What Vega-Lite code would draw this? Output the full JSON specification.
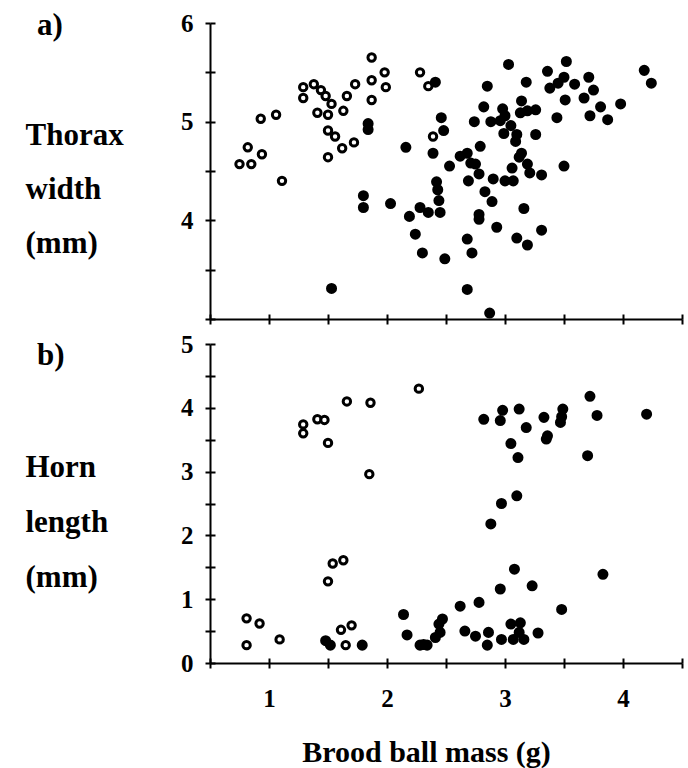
{
  "$schema": "https://vega.github.io/schema/vega-lite/v6.json",
  "background": "white",
  "padding": {"left": 25, "top": 10, "right": 5, "bottom": 5},
  "bounds": "flush",
  "spacing": 25,
  "config": {
    "view": {"stroke": null},
    "font": "Liberation Serif",
    "title": {"font": "Liberation Serif", "fontWeight": "bold", "fontSize": 31, "color": "black", "anchor": "start", "frame": "group", "orient": "top", "baseline": "middle", "offset": 0},
    "axis": {
      "grid": false,
      "domainColor": "black",
      "domainWidth": 2,
      "tickColor": "black",
      "tickWidth": 2,
      "labelFont": "Liberation Serif",
      "labelFontWeight": "bold",
      "labelFontSize": 25,
      "labelColor": "black",
      "titleFont": "Liberation Serif",
      "titleFontWeight": "bold",
      "titleColor": "black"
    }
  },
  "datasets": {
    "thorax": [
      {"mass": 0.75, "value": 4.57, "group": "open"},
      {"mass": 0.85, "value": 4.57, "group": "open"},
      {"mass": 0.82, "value": 4.74, "group": "open"},
      {"mass": 0.94, "value": 4.67, "group": "open"},
      {"mass": 0.93, "value": 5.03, "group": "open"},
      {"mass": 1.06, "value": 5.07, "group": "open"},
      {"mass": 1.11, "value": 4.40, "group": "open"},
      {"mass": 1.29, "value": 5.35, "group": "open"},
      {"mass": 1.29, "value": 5.24, "group": "open"},
      {"mass": 1.38, "value": 5.38, "group": "open"},
      {"mass": 1.44, "value": 5.32, "group": "open"},
      {"mass": 1.48, "value": 5.26, "group": "open"},
      {"mass": 1.53, "value": 5.18, "group": "open"},
      {"mass": 1.41, "value": 5.09, "group": "open"},
      {"mass": 1.50, "value": 5.07, "group": "open"},
      {"mass": 1.63, "value": 5.11, "group": "open"},
      {"mass": 1.66, "value": 5.26, "group": "open"},
      {"mass": 1.73, "value": 5.38, "group": "open"},
      {"mass": 1.50, "value": 4.91, "group": "open"},
      {"mass": 1.56, "value": 4.85, "group": "open"},
      {"mass": 1.50, "value": 4.64, "group": "open"},
      {"mass": 1.62, "value": 4.73, "group": "open"},
      {"mass": 1.72, "value": 4.79, "group": "open"},
      {"mass": 1.87, "value": 5.65, "group": "open"},
      {"mass": 1.87, "value": 5.42, "group": "open"},
      {"mass": 1.87, "value": 5.22, "group": "open"},
      {"mass": 1.98, "value": 5.50, "group": "open"},
      {"mass": 1.99, "value": 5.35, "group": "open"},
      {"mass": 2.28, "value": 5.50, "group": "open"},
      {"mass": 2.35, "value": 5.36, "group": "open"},
      {"mass": 2.39, "value": 4.85, "group": "open"},
      {"mass": 1.84, "value": 4.98, "group": "filled"},
      {"mass": 1.84, "value": 4.92, "group": "filled"},
      {"mass": 2.16, "value": 4.74, "group": "filled"},
      {"mass": 1.80, "value": 4.25, "group": "filled"},
      {"mass": 1.80, "value": 4.13, "group": "filled"},
      {"mass": 2.03, "value": 4.17, "group": "filled"},
      {"mass": 1.53, "value": 3.31, "group": "filled"},
      {"mass": 2.19, "value": 4.04, "group": "filled"},
      {"mass": 2.28, "value": 4.13, "group": "filled"},
      {"mass": 2.35, "value": 4.08, "group": "filled"},
      {"mass": 2.24, "value": 3.86, "group": "filled"},
      {"mass": 2.30, "value": 3.67, "group": "filled"},
      {"mass": 2.41, "value": 5.40, "group": "filled"},
      {"mass": 2.46, "value": 5.04, "group": "filled"},
      {"mass": 2.48, "value": 4.91, "group": "filled"},
      {"mass": 2.39, "value": 4.68, "group": "filled"},
      {"mass": 2.42, "value": 4.39, "group": "filled"},
      {"mass": 2.43, "value": 4.31, "group": "filled"},
      {"mass": 2.44, "value": 4.20, "group": "filled"},
      {"mass": 2.45, "value": 4.08, "group": "filled"},
      {"mass": 2.49, "value": 3.61, "group": "filled"},
      {"mass": 2.68, "value": 3.30, "group": "filled"},
      {"mass": 2.87, "value": 3.06, "group": "filled"},
      {"mass": 2.68, "value": 3.81, "group": "filled"},
      {"mass": 2.72, "value": 3.67, "group": "filled"},
      {"mass": 2.78, "value": 4.06, "group": "filled"},
      {"mass": 2.78, "value": 4.01, "group": "filled"},
      {"mass": 2.93, "value": 3.93, "group": "filled"},
      {"mass": 2.83, "value": 4.29, "group": "filled"},
      {"mass": 2.89, "value": 4.19, "group": "filled"},
      {"mass": 3.16, "value": 4.12, "group": "filled"},
      {"mass": 3.10, "value": 3.82, "group": "filled"},
      {"mass": 3.19, "value": 3.75, "group": "filled"},
      {"mass": 3.31, "value": 3.90, "group": "filled"},
      {"mass": 2.53, "value": 4.55, "group": "filled"},
      {"mass": 2.62, "value": 4.65, "group": "filled"},
      {"mass": 2.68, "value": 4.68, "group": "filled"},
      {"mass": 2.71, "value": 4.58, "group": "filled"},
      {"mass": 2.75, "value": 4.57, "group": "filled"},
      {"mass": 2.79, "value": 4.75, "group": "filled"},
      {"mass": 2.78, "value": 4.47, "group": "filled"},
      {"mass": 2.69, "value": 4.40, "group": "filled"},
      {"mass": 2.90, "value": 4.42, "group": "filled"},
      {"mass": 3.00, "value": 4.40, "group": "filled"},
      {"mass": 3.07, "value": 4.40, "group": "filled"},
      {"mass": 3.06, "value": 4.53, "group": "filled"},
      {"mass": 3.12, "value": 4.64, "group": "filled"},
      {"mass": 3.14, "value": 4.68, "group": "filled"},
      {"mass": 3.19, "value": 4.57, "group": "filled"},
      {"mass": 3.21, "value": 4.48, "group": "filled"},
      {"mass": 3.31, "value": 4.46, "group": "filled"},
      {"mass": 3.50, "value": 4.55, "group": "filled"},
      {"mass": 2.74, "value": 5.00, "group": "filled"},
      {"mass": 2.82, "value": 5.15, "group": "filled"},
      {"mass": 2.85, "value": 5.36, "group": "filled"},
      {"mass": 2.88, "value": 5.00, "group": "filled"},
      {"mass": 3.03, "value": 5.58, "group": "filled"},
      {"mass": 3.18, "value": 5.40, "group": "filled"},
      {"mass": 2.98, "value": 5.13, "group": "filled"},
      {"mass": 3.00, "value": 5.06, "group": "filled"},
      {"mass": 2.96, "value": 5.01, "group": "filled"},
      {"mass": 2.99, "value": 4.88, "group": "filled"},
      {"mass": 3.05, "value": 4.96, "group": "filled"},
      {"mass": 3.10, "value": 4.87, "group": "filled"},
      {"mass": 3.09, "value": 4.80, "group": "filled"},
      {"mass": 3.14, "value": 5.21, "group": "filled"},
      {"mass": 3.13, "value": 5.09, "group": "filled"},
      {"mass": 3.19, "value": 5.11, "group": "filled"},
      {"mass": 3.26, "value": 5.12, "group": "filled"},
      {"mass": 3.26, "value": 4.87, "group": "filled"},
      {"mass": 3.44, "value": 5.04, "group": "filled"},
      {"mass": 3.36, "value": 5.51, "group": "filled"},
      {"mass": 3.52, "value": 5.61, "group": "filled"},
      {"mass": 3.38, "value": 5.34, "group": "filled"},
      {"mass": 3.50, "value": 5.45, "group": "filled"},
      {"mass": 3.45, "value": 5.39, "group": "filled"},
      {"mass": 3.59, "value": 5.38, "group": "filled"},
      {"mass": 3.51, "value": 5.22, "group": "filled"},
      {"mass": 3.71, "value": 5.45, "group": "filled"},
      {"mass": 3.75, "value": 5.32, "group": "filled"},
      {"mass": 3.67, "value": 5.24, "group": "filled"},
      {"mass": 3.81, "value": 5.15, "group": "filled"},
      {"mass": 3.72, "value": 5.06, "group": "filled"},
      {"mass": 3.87, "value": 5.02, "group": "filled"},
      {"mass": 3.98, "value": 5.18, "group": "filled"},
      {"mass": 4.18, "value": 5.52, "group": "filled"},
      {"mass": 4.24, "value": 5.39, "group": "filled"}
    ],
    "horn": [
      {"mass": 2.27, "value": 4.30, "group": "open"},
      {"mass": 1.66, "value": 4.10, "group": "open"},
      {"mass": 1.86, "value": 4.08, "group": "open"},
      {"mass": 1.29, "value": 3.74, "group": "open"},
      {"mass": 1.29, "value": 3.60, "group": "open"},
      {"mass": 1.41, "value": 3.82, "group": "open"},
      {"mass": 1.47, "value": 3.81, "group": "open"},
      {"mass": 1.50, "value": 3.45, "group": "open"},
      {"mass": 1.85, "value": 2.96, "group": "open"},
      {"mass": 1.54, "value": 1.56, "group": "open"},
      {"mass": 1.63, "value": 1.61, "group": "open"},
      {"mass": 1.50, "value": 1.28, "group": "open"},
      {"mass": 0.81, "value": 0.70, "group": "open"},
      {"mass": 0.92, "value": 0.62, "group": "open"},
      {"mass": 0.81, "value": 0.28, "group": "open"},
      {"mass": 1.09, "value": 0.37, "group": "open"},
      {"mass": 1.61, "value": 0.52, "group": "open"},
      {"mass": 1.70, "value": 0.59, "group": "open"},
      {"mass": 1.65, "value": 0.28, "group": "open"},
      {"mass": 1.48, "value": 0.35, "group": "filled"},
      {"mass": 1.52, "value": 0.28, "group": "filled"},
      {"mass": 1.79, "value": 0.28, "group": "filled"},
      {"mass": 2.14, "value": 0.76, "group": "filled"},
      {"mass": 2.17, "value": 0.44, "group": "filled"},
      {"mass": 2.28, "value": 0.28, "group": "filled"},
      {"mass": 2.34, "value": 0.28, "group": "filled"},
      {"mass": 2.41, "value": 0.40, "group": "filled"},
      {"mass": 3.72, "value": 4.18, "group": "filled"},
      {"mass": 3.78, "value": 3.88, "group": "filled"},
      {"mass": 4.20, "value": 3.90, "group": "filled"},
      {"mass": 2.82, "value": 3.82, "group": "filled"},
      {"mass": 2.98, "value": 3.96, "group": "filled"},
      {"mass": 2.96, "value": 3.80, "group": "filled"},
      {"mass": 3.12, "value": 3.98, "group": "filled"},
      {"mass": 3.18, "value": 3.69, "group": "filled"},
      {"mass": 3.33, "value": 3.85, "group": "filled"},
      {"mass": 3.36, "value": 3.56, "group": "filled"},
      {"mass": 3.35, "value": 3.51, "group": "filled"},
      {"mass": 3.49, "value": 3.98, "group": "filled"},
      {"mass": 3.48, "value": 3.86, "group": "filled"},
      {"mass": 3.47, "value": 3.77, "group": "filled"},
      {"mass": 3.05, "value": 3.44, "group": "filled"},
      {"mass": 3.11, "value": 3.22, "group": "filled"},
      {"mass": 3.70, "value": 3.25, "group": "filled"},
      {"mass": 3.10, "value": 2.62, "group": "filled"},
      {"mass": 2.97, "value": 2.50, "group": "filled"},
      {"mass": 2.88, "value": 2.18, "group": "filled"},
      {"mass": 3.08, "value": 1.47, "group": "filled"},
      {"mass": 3.83, "value": 1.39, "group": "filled"},
      {"mass": 3.23, "value": 1.21, "group": "filled"},
      {"mass": 2.96, "value": 1.16, "group": "filled"},
      {"mass": 2.78, "value": 0.95, "group": "filled"},
      {"mass": 2.62, "value": 0.89, "group": "filled"},
      {"mass": 3.48, "value": 0.84, "group": "filled"},
      {"mass": 2.47, "value": 0.69, "group": "filled"},
      {"mass": 2.44, "value": 0.61, "group": "filled"},
      {"mass": 2.45, "value": 0.48, "group": "filled"},
      {"mass": 2.31, "value": 0.29, "group": "filled"},
      {"mass": 2.66, "value": 0.50, "group": "filled"},
      {"mass": 2.75, "value": 0.42, "group": "filled"},
      {"mass": 2.86, "value": 0.48, "group": "filled"},
      {"mass": 2.85, "value": 0.28, "group": "filled"},
      {"mass": 2.97, "value": 0.37, "group": "filled"},
      {"mass": 3.05, "value": 0.61, "group": "filled"},
      {"mass": 3.13, "value": 0.63, "group": "filled"},
      {"mass": 3.07, "value": 0.37, "group": "filled"},
      {"mass": 3.16, "value": 0.37, "group": "filled"},
      {"mass": 3.12, "value": 0.48, "group": "filled"},
      {"mass": 3.28, "value": 0.47, "group": "filled"}
    ]
  },
  "vconcat": [
    {
      "width": 472,
      "height": 296,
      "title": {"text": "a)", "dx": -173, "dy": 35},
      "data": {"name": "thorax"},
      "resolve": {"axis": {"x": "independent", "y": "independent"}},
      "layer": [
        {
          "mark": {"type": "point", "shape": "circle", "stroke": "black", "opacity": 1, "fillOpacity": 1},
          "encoding": {
            "x": {"field": "mass", "type": "quantitative", "scale": {"domain": [0.5, 4.5], "nice": false, "zero": false},
              "axis": {"orient": "bottom", "values": [0.5, 1, 1.5, 2, 2.5, 3, 3.5, 4, 4.5], "labels": false, "tickSize": 5, "title": null}},
            "y": {"field": "value", "type": "quantitative", "scale": {"domain": [3, 6], "nice": false, "zero": false},
              "axis": {"orient": "left", "values": [3, 3.5, 4, 4.5, 5, 5.5, 6], "labelExpr": "datum.value > 3 && datum.value % 1 == 0 ? format(datum.value, 'd') : ''", "tickSize": 5, "labelPadding": 12,
                "title": ["Thorax", "width", "(mm)"], "titleAngle": 0, "titleAlign": "left", "titleBaseline": "top", "titleX": -185, "titleY": 97, "titleFontSize": 31, "titleLineHeight": 54}},
            "fill": {"field": "group", "type": "nominal", "scale": {"domain": ["open", "filled"], "range": ["white", "black"]}, "legend": null},
            "size": {"field": "group", "type": "nominal", "scale": {"domain": ["open", "filled"], "range": [55, 78]}, "legend": null},
            "strokeWidth": {"field": "group", "type": "nominal", "scale": {"domain": ["open", "filled"], "range": [3, 2.2]}, "legend": null}
          }
        },
        {
          "mark": {"type": "point", "opacity": 0},
          "encoding": {
            "x": {"field": "mass", "type": "quantitative",
              "axis": {"orient": "bottom", "values": [0.5, 1, 1.5, 2, 2.5, 3, 3.5, 4, 4.5], "labels": false, "domain": false, "tickSize": -5, "title": null}},
            "y": {"field": "value", "type": "quantitative",
              "axis": {"orient": "left", "values": [3, 3.5, 4, 4.5, 5, 5.5, 6], "labels": false, "domain": false, "tickSize": -5, "title": null}}
          }
        }
      ]
    },
    {
      "width": 472,
      "height": 319,
      "title": {"text": "b)", "dx": -173, "dy": 44},
      "data": {"name": "horn"},
      "resolve": {"axis": {"x": "independent", "y": "independent"}},
      "layer": [
        {
          "mark": {"type": "point", "shape": "circle", "stroke": "black", "opacity": 1, "fillOpacity": 1},
          "encoding": {
            "x": {"field": "mass", "type": "quantitative", "scale": {"domain": [0.5, 4.5], "nice": false, "zero": false},
              "axis": {"orient": "bottom", "values": [0.5, 1, 1.5, 2, 2.5, 3, 3.5, 4, 4.5], "labelExpr": "datum.value % 1 == 0 ? format(datum.value, 'd') : ''", "tickSize": 5, "labelPadding": 18,
                "title": "Brood ball mass (g)", "titleFontSize": 30, "titleAlign": "center", "titleBaseline": "alphabetic", "titleX": 216, "titleY": 98}},
            "y": {"field": "value", "type": "quantitative", "scale": {"domain": [0, 5], "nice": false, "zero": false},
              "axis": {"orient": "left", "values": [0, 0.5, 1, 1.5, 2, 2.5, 3, 3.5, 4, 4.5, 5], "labelExpr": "datum.value % 1 == 0 ? format(datum.value, 'd') : ''", "tickSize": 5, "labelPadding": 12,
                "title": ["Horn", "length", "(mm)"], "titleAngle": 0, "titleAlign": "left", "titleBaseline": "top", "titleX": -185, "titleY": 108, "titleFontSize": 31, "titleLineHeight": 55}},
            "fill": {"field": "group", "type": "nominal", "scale": {"domain": ["open", "filled"], "range": ["white", "black"]}, "legend": null},
            "size": {"field": "group", "type": "nominal", "scale": {"domain": ["open", "filled"], "range": [55, 78]}, "legend": null},
            "strokeWidth": {"field": "group", "type": "nominal", "scale": {"domain": ["open", "filled"], "range": [3, 2.2]}, "legend": null}
          }
        },
        {
          "mark": {"type": "point", "opacity": 0},
          "encoding": {
            "x": {"field": "mass", "type": "quantitative",
              "axis": {"orient": "bottom", "values": [0.5, 1, 1.5, 2, 2.5, 3, 3.5, 4, 4.5], "labels": false, "domain": false, "tickSize": -5, "title": null}},
            "y": {"field": "value", "type": "quantitative",
              "axis": {"orient": "left", "values": [0, 0.5, 1, 1.5, 2, 2.5, 3, 3.5, 4, 4.5, 5], "labels": false, "domain": false, "tickSize": -5, "title": null}}
          }
        }
      ]
    }
  ]
}
